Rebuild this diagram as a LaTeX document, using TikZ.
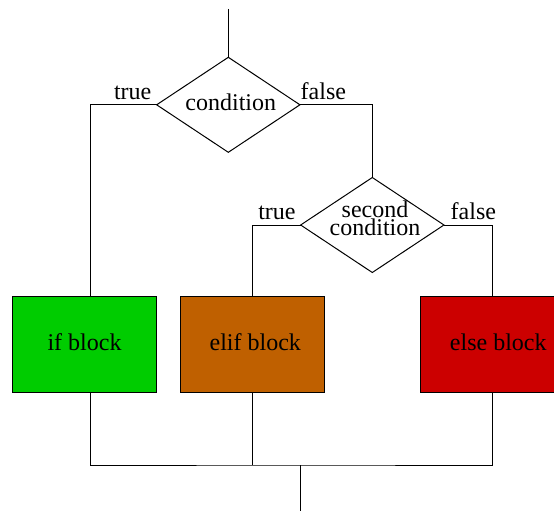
\documentclass[tikz,border=0pt]{standalone}
\usepackage{fontspec}
\setmainfont{Liberation Serif}
\usetikzlibrary{shapes.geometric,calc}
\definecolor{ifgreen}{RGB}{0,204,0}
\definecolor{elifbrown}{RGB}{191,96,0}
\definecolor{elsered}{RGB}{204,0,0}
\begin{document}
\begin{tikzpicture}[x=1pt,y=-1pt,
  line/.style={draw=black, line width=1pt},
  decision/.style={diamond, draw=black, line width=1pt, fill=white,
    inner sep=0pt, outer sep=0pt, minimum width=143.3pt, minimum height=95pt},
  block/.style={rectangle, draw=black, line width=1pt, inner sep=0pt,
    outer sep=0pt, minimum width=143.6pt, minimum height=96pt},
  txt/.style={inner sep=0pt, outer sep=0pt, anchor=base,
    font=\fontsize{24}{16.7}\selectfont},
  branch/.style={txt, anchor=base west}]
\useasboundingbox (0,0) rectangle (554,511);
\clip (0,0) rectangle (554,511);

% decisions
\node[decision] (cond1) at (228.3,104.8) {};
\node[decision] (cond2) at (372.3,225) {};

% blocks
\node[block, fill=ifgreen]   (ifb)   at (84.2,344.7)  {};
\node[block, fill=elifbrown] (elifb) at (252.5,344.7) {};
\node[block, fill=elsered]   (elseb) at (492.5,344.7) {};

% texts (base anchor of the two-line text is its last baseline)
\node[txt] (cond1txt)  at (230.8,110.3) {condition};
\node[txt, align=center] (cond2txt) at (375,235.7) {second\\condition};
\node[txt] (iftxt)     at (84.5,350.3)  {if block};
\node[txt] (eliftxt)   at (255.3,350.5) {elif block};
\node[txt] (elsetxt)   at (498.3,350.5) {else block};

% branch labels
\node[branch] (t1) at (114,99.3)   {true};
\node[branch] (f1) at (300.7,99.3) {false};
\node[branch] (t2) at (258.3,219.3) {true};
\node[branch] (f2) at (450.7,219.3) {false};

% connectors
\coordinate (entry) at (228.3,9);
\coordinate (merge) at (300,465);
\coordinate (exit)  at (300,511);

\draw[line] (entry) -- (cond1.north);
\draw[line] (cond1.west) -| ([xshift=5.8pt]ifb.north);
\draw[line] (cond1.east) -| (cond2.north);
\draw[line] (cond2.west) -| (elifb.north);
\draw[line] (cond2.east) -| (elseb.north);
\draw[line] ([xshift=5.8pt]ifb.south) |- (merge) -| (elseb.south);
\draw[line] (elifb.south) -- (elifb.south |- merge);
\draw[line] (merge) -- (exit);
\end{tikzpicture}
\end{document}
